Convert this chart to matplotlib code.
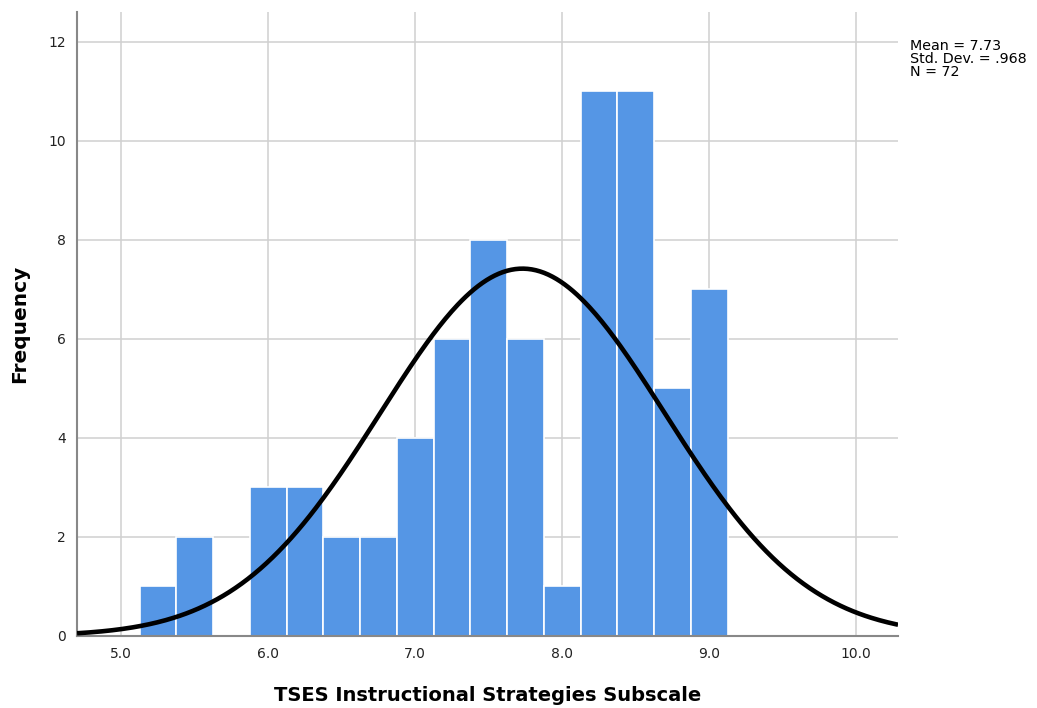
import numpy as np
import matplotlib.pyplot as plt

# histogram bins (left edges) and counts
bin_left = [5.125, 5.375, 5.625, 5.875, 6.125, 6.375, 6.625, 6.875,
            7.125, 7.375, 7.625, 7.875, 8.125, 8.375, 8.625, 8.875]
counts = [1, 2, 0, 3, 3, 2, 2, 4, 6, 8, 6, 1, 11, 11, 5, 7]
bin_width = 0.25

mean = 7.73
std_dev = 0.968
n = 72

x_ticks = [5.0, 6.0, 7.0, 8.0, 9.0, 10.0]
y_ticks = [0, 2, 4, 6, 8, 10, 12]

fig = plt.figure(figsize=(10.37, 7.08), dpi=100)
ax = fig.add_axes([0.0743, 0.1017, 0.7917, 0.8813])

ax.bar(bin_left, counts, width=bin_width, align='edge', color='#5596e5',
       edgecolor='white', linewidth=1.2, zorder=2)

# normal curve scaled to the histogram
xs = np.linspace(4.70, 10.285, 400)
pdf = np.exp(-0.5 * ((xs - mean) / std_dev) ** 2) / (std_dev * np.sqrt(2 * np.pi))
ax.plot(xs, n * bin_width * pdf, color='black', linewidth=3.3, zorder=3,
        solid_capstyle='butt')

ax.set_xlim(4.70, 10.285)
ax.set_ylim(0, 12.6)
ax.set_xticks(x_ticks)
ax.set_xticklabels([f"{t:.1f}" for t in x_ticks])
ax.set_yticks(y_ticks)
ax.tick_params(length=0, labelsize=10, colors='#222222', pad=8)
ax.grid(True, color='#d0d0d0', linewidth=1.1, zorder=0)
ax.set_axisbelow(True)

for side in ['top', 'right']:
    ax.spines[side].set_visible(False)
for side in ['left', 'bottom']:
    ax.spines[side].set_color('#888888')
    ax.spines[side].set_linewidth(1.5)

ax.set_xlabel('TSES Instructional Strategies Subscale', fontsize=14,
              fontweight='bold', labelpad=18)
ax.set_ylabel('Frequency', fontsize=14.5, fontweight='bold', labelpad=14)

fig.text(910 / 1037, 1 - 39 / 708,
         f"Mean = {mean:.2f}\nStd. Dev. = .968\nN = {n}",
         fontsize=10.3, va='top', ha='left', linespacing=0.9)

fig.savefig('out.png', dpi=100)
